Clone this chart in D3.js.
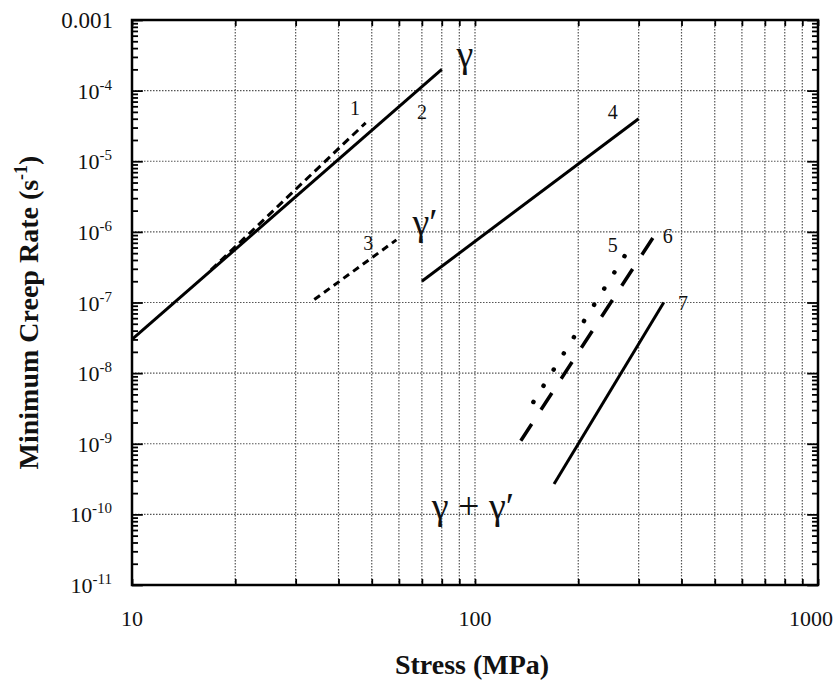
<!DOCTYPE html>
<html>
<head>
<meta charset="utf-8">
<script src="https://cdn.jsdelivr.net/npm/d3@7"></script>
<style>
  html, body { margin: 0; padding: 0; background: #fff; }
  svg { display: block; }
  text { font-family: "Liberation Serif", "Times New Roman", serif; fill: #111; }
</style>
</head>
<body>
<svg id="chart" width="834" height="684"></svg>
<script>
// ---------------- data ----------------
const xDomain = [10, 1000];
const yDomain = [1e-11, 1e-3];
const xTickLabels = ["10", "100", "1000"];
const xTickValues = [10, 100, 1000];
const yTickValues = [1e-3, 1e-4, 1e-5, 1e-6, 1e-7, 1e-8, 1e-9, 1e-10, 1e-11];
const yTickExponents = ["0.001", "-4", "-5", "-6", "-7", "-8", "-9", "-10", "-11"];

// creep-rate lines: [stress MPa, rate 1/s]
const line1 = [[17, 2.9e-7], [48, 3.5e-5]];
const line2 = [[10, 3e-8], [80, 2e-4]];
const line3 = [[34, 1.1e-7], [59, 7.7e-7]];
const line4 = [[70, 2e-7], [300, 4e-5]];
const line5 = [[148, 3.9e-9], [281, 5.7e-7]];
const line6 = [[136, 1.1e-9], [330, 8.2e-7]];
const line7 = [[170, 2.7e-10], [355, 1e-7]];

// annotations (data coordinates)
const numLabels = ["1", "2", "3", "4", "5", "6", "7"];
const numLabelX = [44.7, 70.1, 48.8, 252, 252, 365, 404];
const numLabelY = [5.7e-5, 5.0e-5, 6.9e-7, 5.0e-5, 6.5e-7, 8.7e-7, 1.0e-7];
const phaseLabels = ["γ", "γ′", "γ + γ′"];
const phaseLabelX = [93.5, 71.5, 98.6];
const phaseLabelY = [2.9e-4, 1.21e-6, 1.15e-10];

const xTitle = "Stress (MPa)";
const yTitle = "Minimum Creep Rate (s";

// ---------------- layout ----------------
const svg = d3.select("#chart");
const L = 132, R = 818, T = 20, B = 585;
const x = d3.scaleLog().domain(xDomain).range([L, R]);
const y = d3.scaleLog().domain(yDomain).range([B, T]);

// minor tick values
const xMinor = [];
for (let d = 10; d < 1000; d *= 10) for (let k = 1; k <= 9; k++) xMinor.push(k * d);
xMinor.push(1000);
const yMinor = [];
for (let e = -11; e < -3; e++) for (let k = 1; k <= 9; k++) yMinor.push(k * Math.pow(10, e));
yMinor.push(1e-3);

// grid
const grid = svg.append("g").attr("stroke", "#555").attr("stroke-width", 1.2)
  .attr("stroke-dasharray", "1.5,1.5");
grid.selectAll("line.v").data(xMinor.filter(v => v > 10 && v < 1000)).enter().append("line")
  .attr("x1", d => x(d)).attr("x2", d => x(d)).attr("y1", T).attr("y2", B);
grid.selectAll("line.h").data(yTickValues.filter(v => v > 1e-11 && v < 1e-3)).enter().append("line")
  .attr("x1", L).attr("x2", R).attr("y1", d => y(d)).attr("y2", d => y(d));

// axes with inward ticks
function isDecade(v) { const l = Math.log10(v); return Math.abs(l - Math.round(l)) < 1e-9; }
const axL = svg.append("g").attr("transform", `translate(${L},0)`)
  .call(d3.axisLeft(y).tickValues(yMinor).tickFormat("").tickSizeOuter(0).tickSize(-6));
const axR = svg.append("g").attr("transform", `translate(${R},0)`)
  .call(d3.axisRight(y).tickValues(yMinor).tickFormat("").tickSizeOuter(0).tickSize(-6));
[axL, axR].forEach(a => {
  a.selectAll(".tick line").attr("stroke-width", 1.8)
    .attr("x2", function(d) { const s = +d3.select(this).attr("x2"); return isDecade(d) ? s * 1.8 : s; });
  a.select(".domain").remove();
});
const axB = svg.append("g").attr("transform", `translate(0,${B})`)
  .call(d3.axisBottom(x).tickValues(xMinor).tickFormat("").tickSizeOuter(0).tickSize(-6));
const axT = svg.append("g").attr("transform", `translate(0,${T})`)
  .call(d3.axisTop(x).tickValues(xMinor).tickFormat("").tickSizeOuter(0).tickSize(-6));
[axB, axT].forEach(a => {
  a.selectAll(".tick line").attr("stroke-width", 1.8);
  a.select(".domain").remove();
});

// frame
svg.append("rect").attr("x", L).attr("y", T).attr("width", R - L).attr("height", B - T)
  .attr("fill", "none").attr("stroke", "#000").attr("stroke-width", 2.5);

// tick labels
const xl = svg.append("g").attr("font-size", 22);
xl.selectAll("text").data(xTickValues).enter().append("text")
  .attr("text-anchor", (d, i) => i === xTickValues.length - 1 ? "end" : "middle")
  .attr("x", (d, i) => i === xTickValues.length - 1 ? 833 : x(d)).attr("y", B + 41)
  .text((d, i) => xTickLabels[i]);

const yl = svg.append("g").attr("font-size", 22).attr("text-anchor", "end");
yTickValues.forEach((v, i) => {
  const t = yl.append("text").attr("x", L - 20).attr("y", y(v) + 8);
  if (i === 0) { t.attr("x", L - 19).attr("font-size", 23).text(yTickExponents[i]); }
  else {
    t.append("tspan").text("10");
    t.append("tspan").attr("font-size", 15).attr("dy", -9).text(yTickExponents[i]);
  }
});

// data lines
const lineGen = d3.line().x(d => x(d[0])).y(d => y(d[1]));
const styles = [
  { data: line1, dash: "8,5", w: 3, cap: "butt" },
  { data: line2, dash: null, w: 3, cap: "butt" },
  { data: line3, dash: "7,5", w: 3, cap: "butt" },
  { data: line4, dash: null, w: 3, cap: "butt" },
  { data: line5, dash: "0.1,19", w: 4.5, cap: "round" },
  { data: line6, dash: "20,17", w: 3.5, cap: "butt" },
  { data: line7, dash: null, w: 3, cap: "butt" }
];
styles.forEach(s => {
  const p = svg.append("path").datum(s.data).attr("d", lineGen)
    .attr("fill", "none").attr("stroke", "#000").attr("stroke-width", s.w)
    .attr("stroke-linecap", s.cap);
  if (s.dash) p.attr("stroke-dasharray", s.dash);
});

// number labels
svg.append("g").attr("font-size", 20).attr("text-anchor", "middle")
  .selectAll("text").data(numLabels).enter().append("text")
  .attr("x", (d, i) => x(numLabelX[i])).attr("y", (d, i) => y(numLabelY[i]) + 7)
  .text(d => d);

// phase labels
svg.append("g").attr("font-size", 38).attr("text-anchor", "middle")
  .selectAll("text").data(phaseLabels).enter().append("text")
  .attr("x", (d, i) => x(phaseLabelX[i])).attr("y", (d, i) => y(phaseLabelY[i]) + 9)
  .text(d => d);

// axis titles
svg.append("text").attr("x", (L + R) / 2 - 3).attr("y", 674).attr("text-anchor", "middle")
  .attr("font-size", 28).attr("font-weight", "bold").text(xTitle);
const yt = svg.append("text").attr("transform", `translate(38,${(T + B) / 2 + 10}) rotate(-90)`)
  .attr("text-anchor", "middle").attr("font-size", 28).attr("font-weight", "bold");
yt.append("tspan").text(yTitle);
yt.append("tspan").attr("font-size", 18).attr("dy", -11).text("-1");
yt.append("tspan").attr("dy", 11).text(")");
</script>
</body>
</html>
